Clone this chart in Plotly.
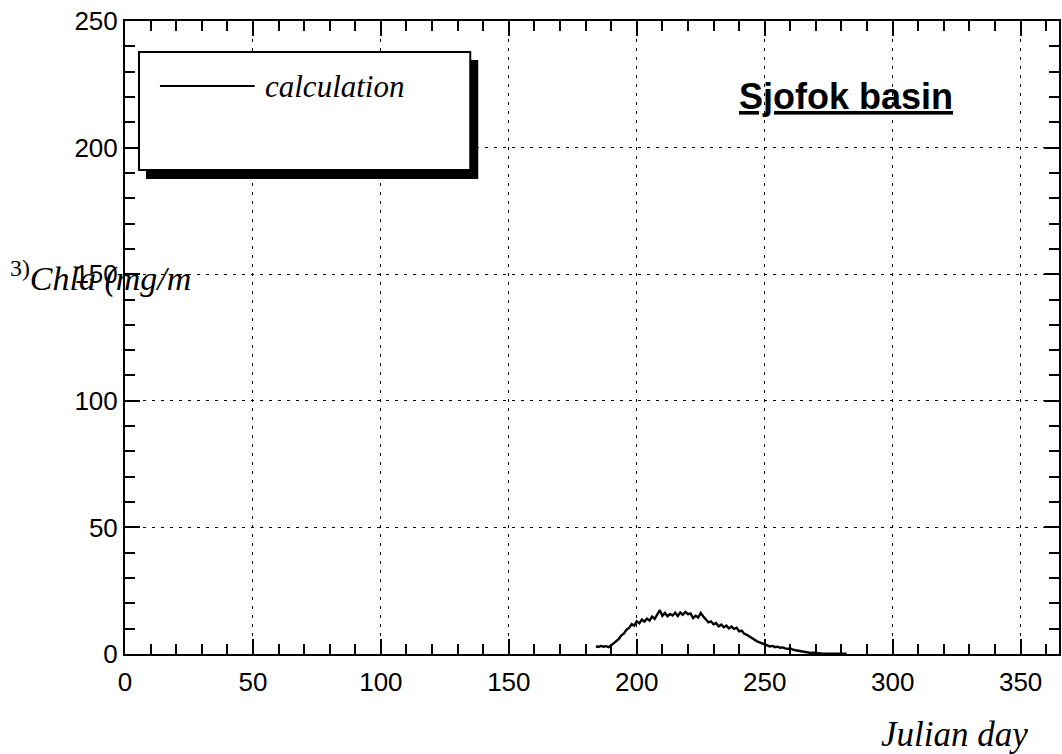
import plotly.graph_objects as go

# Simulated chlorophyll-a, Siofok basin (daily model output)
days = list(range(184, 283))
chla = [
    3.0, 2.8, 3.2, 2.9, 3.1, 2.7, 3.4, 4.2, 5.1, 6.0,
    7.4, 8.1, 9.6, 10.3, 11.8, 11.2, 12.9, 12.1, 13.6, 12.8,
    14.0, 13.2, 14.8, 13.9, 15.6, 17.3, 15.1, 16.2, 14.9, 15.8,
    15.2, 16.3, 15.0, 16.4, 15.5, 16.6, 15.7, 16.0, 14.2, 15.1,
    14.4, 16.2, 14.8, 13.6, 12.5, 12.9, 11.7, 12.2, 10.9, 11.6,
    10.6, 11.2, 10.1, 10.8, 9.9, 10.4, 8.9, 9.2, 8.0, 7.6,
    6.9, 6.3, 5.8, 5.0, 4.6, 4.1, 3.8, 3.4, 3.0, 3.2,
    2.7, 2.9, 2.5, 2.6, 2.2, 2.0, 2.3, 1.7, 1.5, 1.3,
    1.0, 0.8, 0.6, 0.5, 0.4, 0.5, 0.3, 0.3, 0.2, 0.2,
    0.3, 0.2, 0.1, 0.2, 0.1, 0.1, 0.2, 0.1, 0.1,
]

x_ticks = [0, 50, 100, 150, 200, 250, 300, 350]
y_ticks = [0, 50, 100, 150, 200, 250]

W, H = 1062, 754
L, R, T, B = 125, 1, 21, 100
PW, PH = W - L - R, H - T - B


def px(x):
    return (x - L) / PW


def py(y):
    return (H - B - y) / PH


fig = go.Figure()
fig.add_trace(go.Scatter(
    x=days, y=chla, mode="lines", name="calculation",
    line=dict(color="black", width=2.4), showlegend=False,
))

axis_common = dict(
    showline=True, linecolor="black", linewidth=2, mirror="allticks",
    ticks="inside", ticklen=15, tickwidth=1.5, tickcolor="black",
    showgrid=True, gridcolor="black", gridwidth=1.3, griddash="3px,6px",
    zeroline=False,
    tickfont=dict(family="Liberation Sans, Arial", size=26, color="black"),
)

fig.update_xaxes(
    range=[0, 365], tickvals=x_ticks, ticklabelstandoff=4,
    minor=dict(dtick=10, tick0=0, ticks="inside", ticklen=10,
               tickwidth=1.5, tickcolor="black", showgrid=False),
    **axis_common,
)
fig.update_yaxes(
    range=[0, 250], tickvals=y_ticks,
    minor=dict(dtick=10, tick0=0, ticks="inside", ticklen=10,
               tickwidth=1.5, tickcolor="black", showgrid=False),
    **axis_common,
)

# legend box with drop shadow
fig.add_shape(type="rect", xref="paper", yref="paper",
              x0=px(146), x1=px(479), y0=py(179), y1=py(60),
              fillcolor="black", line=dict(color="black", width=0), layer="above")
fig.add_shape(type="rect", xref="paper", yref="paper",
              x0=px(139), x1=px(471), y0=py(170), y1=py(52),
              fillcolor="white", line=dict(color="black", width=2), layer="above")
fig.add_shape(type="line", xref="paper", yref="paper",
              x0=px(160), x1=px(255), y0=py(86), y1=py(86),
              line=dict(color="black", width=2), layer="above")
fig.add_annotation(xref="paper", yref="paper", x=px(263), y=py(86),
                   xanchor="left", yanchor="middle", showarrow=False,
                   text="<i>calculation</i>",
                   font=dict(family="Liberation Serif, Times New Roman", size=31, color="black"))

# basin title
fig.add_annotation(xref="paper", yref="paper", x=px(848), y=py(96),
                   xanchor="center", yanchor="middle", showarrow=False,
                   text="<b><u>Sjofok basin</u></b>",
                   font=dict(family="Liberation Sans, Arial", size=36, color="black"))

# axis titles
fig.add_annotation(xref="paper", yref="paper", x=px(8), y=py(276),
                   xanchor="left", yanchor="middle", showarrow=False,
                   text="<sup>3)</sup><i>Chla (mg/m</i>",
                   font=dict(family="Liberation Serif, Times New Roman", size=34, color="black"))
fig.add_annotation(xref="paper", yref="paper", x=px(1032), y=py(735),
                   xanchor="right", yanchor="middle", showarrow=False,
                   text="<i>Julian day</i>",
                   font=dict(family="Liberation Serif, Times New Roman", size=35, color="black"))

fig.update_layout(
    width=W, height=H,
    margin=dict(l=L, r=R, t=T, b=B),
    paper_bgcolor="white", plot_bgcolor="white",
    showlegend=False,
)

fig.write_html("out.html")
